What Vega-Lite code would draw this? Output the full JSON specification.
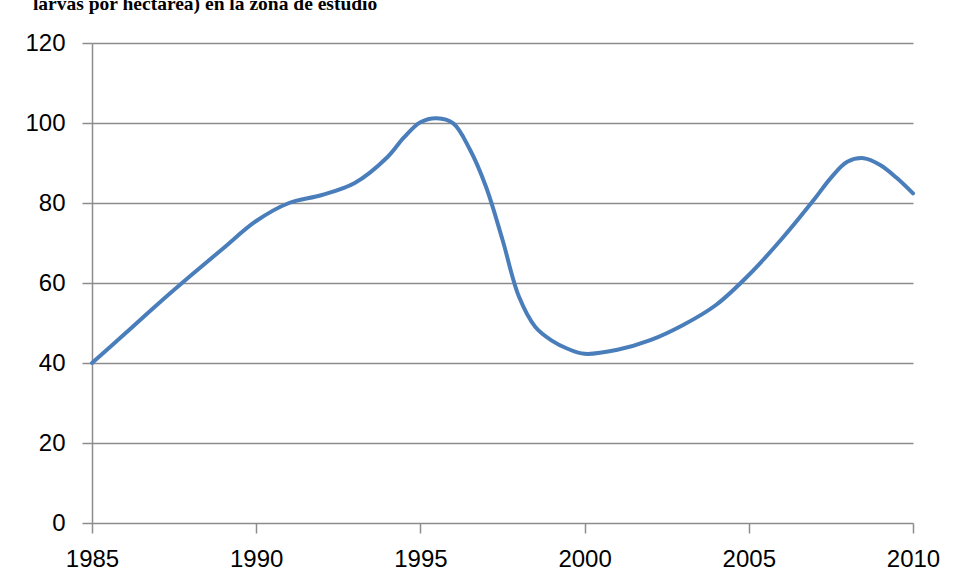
{
  "$schema": "https://vega.github.io/schema/vega-lite/v6.json",
  "width": 821,
  "height": 480,
  "autosize": {"type": "none"},
  "padding": {"left": 92, "top": 43, "right": 42, "bottom": 60},
  "background": "#ffffff",
  "title": {
    "text": "larvas por hectárea) en la zona de estudio",
    "anchor": "start",
    "font": "Liberation Serif",
    "fontSize": 19.5,
    "fontWeight": "bold",
    "color": "#000000",
    "baseline": "alphabetic",
    "offset": 0,
    "dy": -2,
    "dx": 8
  },
  "data": {
    "values": [
      {"year": 1985, "value": 40},
      {"year": 1986, "value": 47.3},
      {"year": 1987, "value": 54.7},
      {"year": 1988, "value": 61.8},
      {"year": 1989, "value": 68.7},
      {"year": 1990, "value": 75.5},
      {"year": 1991, "value": 80},
      {"year": 1992, "value": 82},
      {"year": 1993, "value": 85},
      {"year": 1994, "value": 91.5},
      {"year": 1994.5, "value": 96.4},
      {"year": 1995, "value": 100.2},
      {"year": 1995.5, "value": 101.2},
      {"year": 1996, "value": 99.9},
      {"year": 1996.5, "value": 93.5},
      {"year": 1997, "value": 84},
      {"year": 1997.5, "value": 70.8},
      {"year": 1998, "value": 56.6},
      {"year": 1998.5, "value": 49},
      {"year": 1999, "value": 45.6},
      {"year": 1999.5, "value": 43.5},
      {"year": 2000, "value": 42.3},
      {"year": 2001, "value": 43.3},
      {"year": 2002, "value": 45.7},
      {"year": 2003, "value": 49.5},
      {"year": 2004, "value": 54.5},
      {"year": 2005, "value": 62},
      {"year": 2006, "value": 71},
      {"year": 2007, "value": 81},
      {"year": 2007.5, "value": 86.3},
      {"year": 2008, "value": 90.3},
      {"year": 2008.5, "value": 91.2},
      {"year": 2009, "value": 89.5},
      {"year": 2009.5, "value": 86.3},
      {"year": 2010, "value": 82.4}
    ]
  },
  "mark": {
    "type": "line",
    "interpolate": "catmull-rom",
    "color": "#4a7ebb",
    "strokeWidth": 4,
    "strokeCap": "round"
  },
  "encoding": {
    "x": {
      "field": "year",
      "type": "quantitative",
      "scale": {"domain": [1985, 2010], "nice": false, "zero": false},
      "axis": {
        "values": [1985, 1990, 1995, 2000, 2005, 2010],
        "format": "d",
        "title": null,
        "grid": false,
        "domain": false,
        "ticks": true,
        "tickSize": 10,
        "tickColor": "#8c8c8c",
        "tickWidth": 1.5,
        "labelFont": "Liberation Sans",
        "labelFontSize": 24,
        "labelColor": "#000000",
        "labelPadding": 14,
        "labelFlush": false,
        "labelOverlap": false
      }
    },
    "y": {
      "field": "value",
      "type": "quantitative",
      "scale": {"domain": [0, 120], "nice": false},
      "axis": {
        "values": [0, 20, 40, 60, 80, 100, 120],
        "title": null,
        "grid": true,
        "gridColor": "#8c8c8c",
        "gridWidth": 1.5,
        "gridOpacity": 1,
        "domain": true,
        "domainColor": "#8c8c8c",
        "domainWidth": 1.5,
        "tickSize": 10,
        "tickColor": "#8c8c8c",
        "tickWidth": 1.5,
        "labelFont": "Liberation Sans",
        "labelFontSize": 24,
        "labelColor": "#000000",
        "labelPadding": 17
      }
    }
  },
  "config": {
    "view": {"stroke": null}
  }
}
